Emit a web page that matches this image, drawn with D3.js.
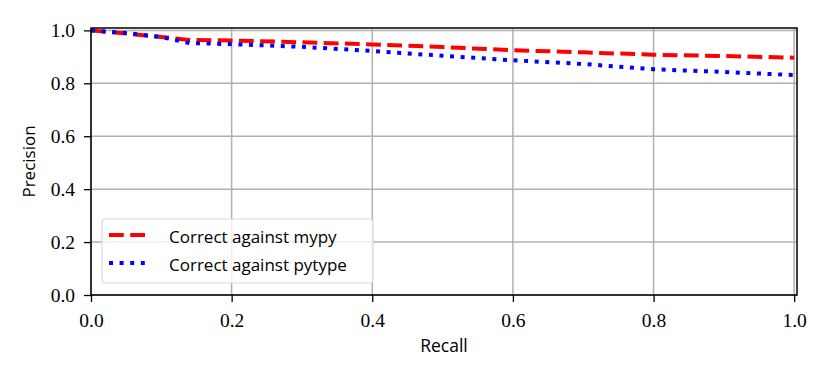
<!DOCTYPE html>
<html>
<head>
<meta charset="utf-8">
<script src="https://cdn.jsdelivr.net/npm/d3@7"></script>
<style>
  body { margin: 0; background: #fff; }
  svg { display: block; }
</style>
</head>
<body>
<div id="chart"></div>
<script>
// values
var recall = [0, 0.05, 0.1, 0.14, 0.2, 0.3, 0.4, 0.5, 0.6, 0.7, 0.8, 0.9, 1.0];
var mypyPrecision = [1.0, 0.988, 0.975, 0.964, 0.962, 0.955, 0.947, 0.937, 0.925, 0.917, 0.908, 0.903, 0.897];
var pytypePrecision = [1.0, 0.99, 0.975, 0.952, 0.948, 0.938, 0.922, 0.904, 0.887, 0.873, 0.853, 0.843, 0.831];
var tickValues = [0, 0.2, 0.4, 0.6, 0.8, 1.0];
var seriesNames = ["Correct against mypy", "Correct against pytype"];

var width = 830, height = 378;
var margin = { left: 91, right: 33, top: 28, bottom: 83 };

var svg = d3.select("#chart").append("svg")
  .attr("width", width).attr("height", height);

var x = d3.scaleLinear().domain([0, 1.004]).range([margin.left, width - margin.right]);
var y = d3.scaleLinear().domain([0, 1.009]).range([height - margin.bottom, margin.top]);

// grid
var grid = svg.append("g");
grid.selectAll("line.gx").data(tickValues).enter().append("line")
  .attr("x1", d => x(d)).attr("x2", d => x(d))
  .attr("y1", y.range()[0]).attr("y2", y.range()[1])
  .style("stroke", "#b0b0b0").style("stroke-width", 1.5);
grid.selectAll("line.gy").data(tickValues).enter().append("line")
  .attr("y1", d => y(d)).attr("y2", d => y(d))
  .attr("x1", x.range()[0]).attr("x2", x.range()[1])
  .style("stroke", "#b0b0b0").style("stroke-width", 1.5);

// lines
var line = d3.line();
function pts(vals) { return recall.map((r, i) => [x(r), y(vals[i])]); }

svg.append("path").attr("d", line(pts(mypyPrecision)))
  .style("fill", "none").style("stroke", "#ff0000").style("stroke-width", 4)
  .style("stroke-dasharray", "14.8,6.4");
svg.append("path").attr("d", line(pts(pytypePrecision)))
  .style("fill", "none").style("stroke", "#0000ff").style("stroke-width", 4)
  .style("stroke-dasharray", "4,6.6");

// spines
svg.append("rect")
  .attr("x", x.range()[0]).attr("y", y.range()[1])
  .attr("width", x.range()[1] - x.range()[0])
  .attr("height", y.range()[0] - y.range()[1])
  .style("fill", "none").style("stroke", "#000").style("stroke-width", 1.5);

// axes
var tickFont = "'Liberation Serif', 'DejaVu Serif', serif";
var xAxis = svg.append("g")
  .attr("transform", "translate(0," + y.range()[0] + ")")
  .call(d3.axisBottom(x).tickValues(tickValues).tickFormat(d3.format(".1f")).tickSizeOuter(0).tickSize(7));
var yAxis = svg.append("g")
  .attr("transform", "translate(" + x.range()[0] + ",0)")
  .call(d3.axisLeft(y).tickValues(tickValues).tickFormat(d3.format(".1f")).tickSizeOuter(0).tickSize(7).tickPadding(9));
[xAxis, yAxis].forEach(function (a) {
  a.select(".domain").remove();
  a.selectAll(".tick line").style("stroke", "#000").style("stroke-width", 1.3);
  a.selectAll(".tick text").style("font-family", tickFont).style("font-size", "19.5px").style("fill", "#000");
});
xAxis.selectAll(".tick text").attr("y", 32).attr("dy", 0);

var labelFont = "'Open Sans', 'DejaVu Sans', sans-serif";
svg.append("text")
  .attr("x", (x.range()[0] + x.range()[1]) / 2).attr("y", 352)
  .attr("text-anchor", "middle")
  .style("font-family", labelFont).style("font-size", "17.5px")
  .text("Recall");
svg.append("text")
  .attr("transform", "translate(35," + ((y.range()[0] + y.range()[1]) / 2) + ") rotate(-90)")
  .attr("text-anchor", "middle")
  .style("font-family", labelFont).style("font-size", "17px")
  .text("Precision");

// legend
var legend = svg.append("g").attr("transform", "translate(102,219)");
legend.append("rect")
  .attr("width", 271).attr("height", 64).attr("rx", 3)
  .style("fill", "rgba(255,255,255,0.8)").style("stroke", "#d9d9d9").style("stroke-width", 1.2);
var styles = [
  { color: "#ff0000", dash: "14.8,6.4" },
  { color: "#0000ff", dash: "4,6.6" }
];
seriesNames.forEach(function (name, i) {
  var yy = 16 + i * 28;
  legend.append("line")
    .attr("x1", 7).attr("x2", 46).attr("y1", yy).attr("y2", yy)
    .style("stroke", styles[i].color).style("stroke-width", 4)
    .style("stroke-dasharray", styles[i].dash);
  legend.append("text")
    .attr("x", 67).attr("y", yy + 8)
    .style("font-family", labelFont).style("font-size", "17px")
    .text(name);
});
</script>
</body>
</html>
